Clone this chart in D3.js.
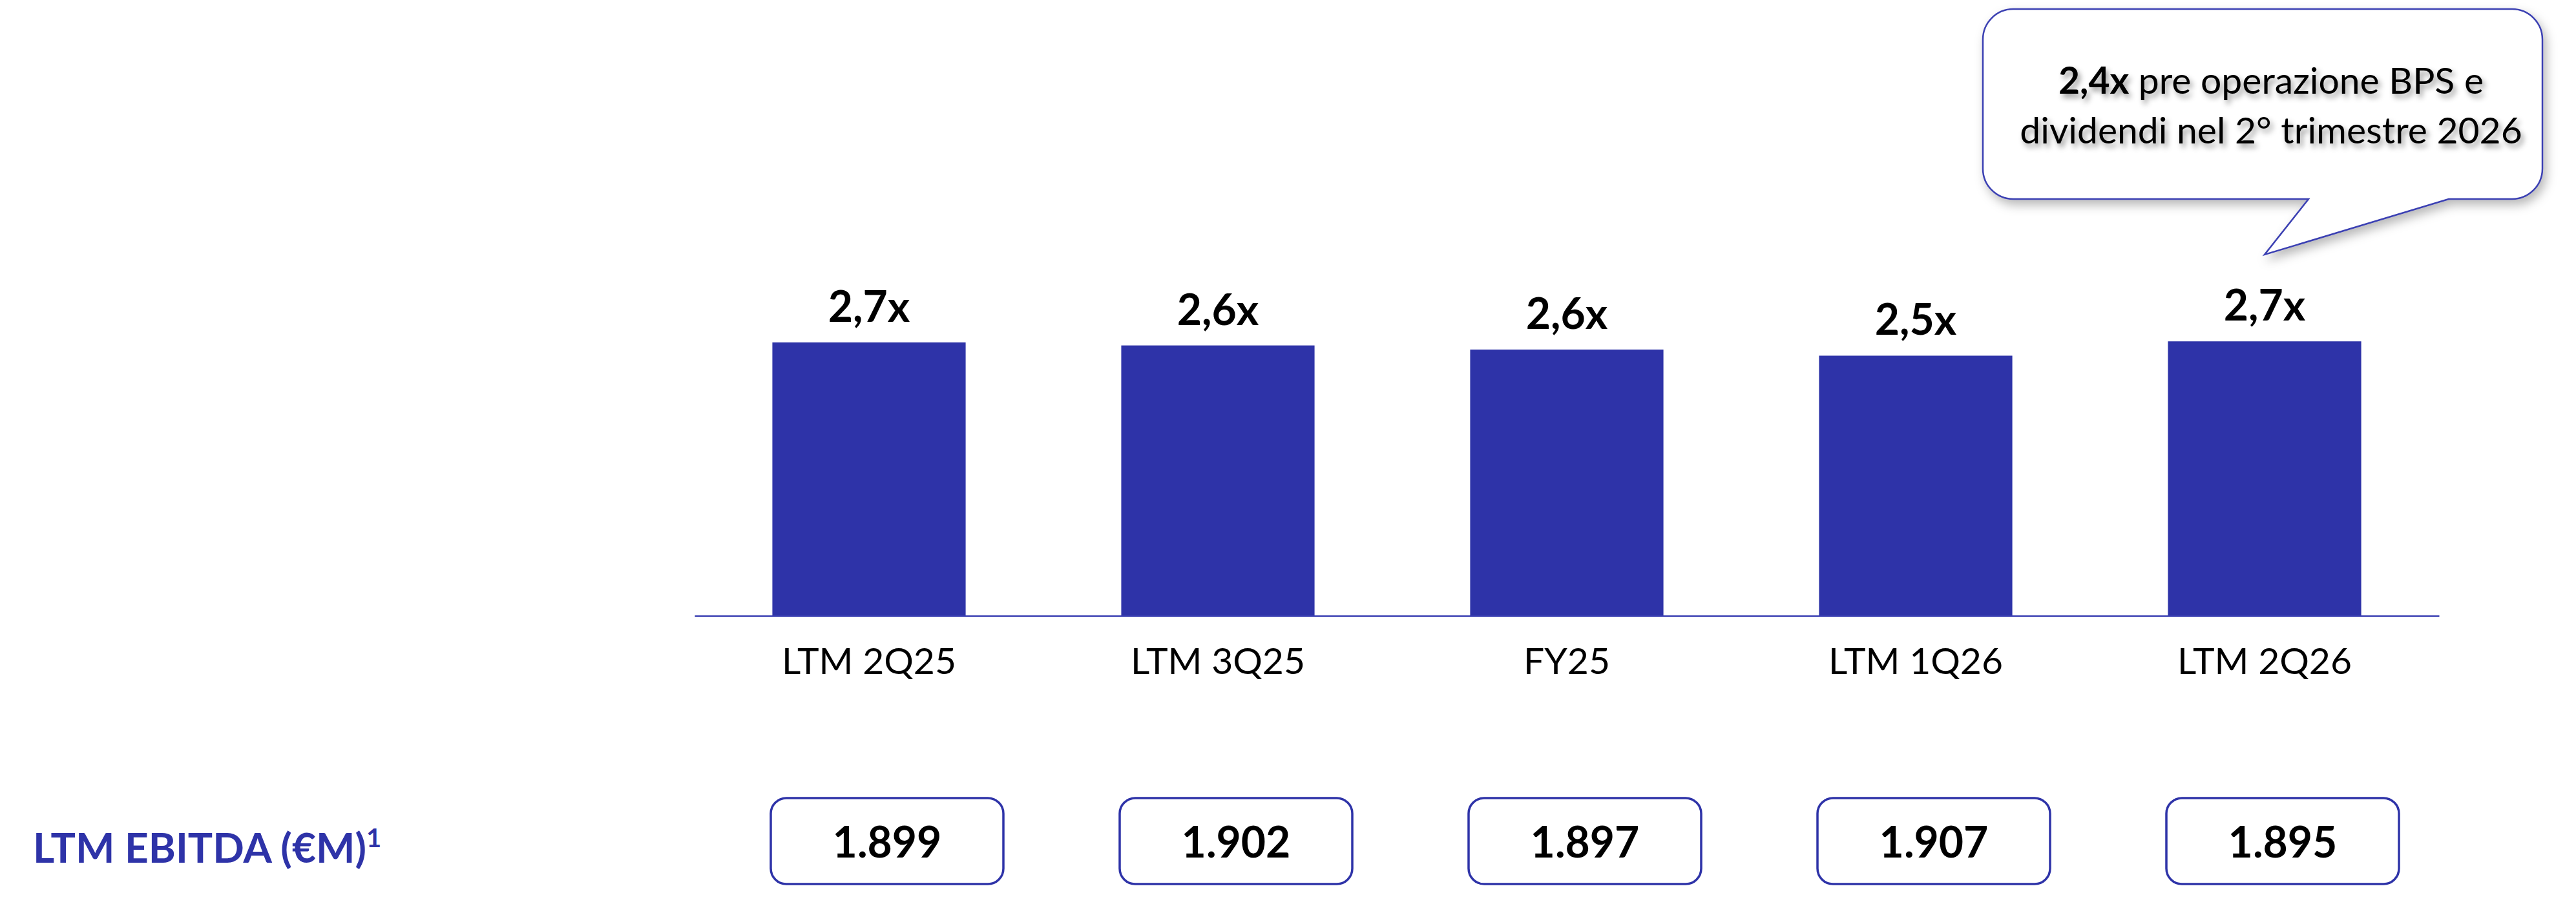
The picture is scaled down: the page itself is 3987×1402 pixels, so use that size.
<!DOCTYPE html>
<html>
<head>
<meta charset="utf-8">
<script src="https://cdn.jsdelivr.net/npm/d3@7"></script>
<style>
  body { margin: 0; background: #ffffff; }
  svg { display: block; font-family: Lato, "Open Sans", sans-serif; }
</style>
</head>
<body>
<div id="chart"></div>
<script>
// periods on the x axis
var periods = ["LTM 2Q25", "LTM 3Q25", "FY25", "LTM 1Q26", "LTM 2Q26"];
// leverage multiple (x) per period
var leverage = [2.67, 2.64, 2.60, 2.54, 2.68];
// LTM EBITDA, € millions
var ebitda = [1899, 1902, 1897, 1907, 1895];
var rowLabel = "LTM EBITDA (€M)";
var rowNote = "1";
// callout on the last bar
var calloutValue = 2.4;
var calloutLines = [" pre operazione BPS e", "dividendi nel 2° trimestre 2026"];

var svgWidth = 3987;
var svgHeight = 1402;
var blue = "#2e33a8";

// italian number format: 2,7 and 1.899
var it = d3.formatLocale({ decimal: ",", thousands: ".", grouping: [3], currency: ["€", ""] });
var fmtMult = it.format(".1f");
var fmtInt = it.format(",d");

var svg = d3.select("#chart")
  .append("svg")
  .attr("width", svgWidth)
  .attr("height", svgHeight);

var defs = svg.append("defs");
defs.append("filter")
  .attr("id", "boxShadow")
  .attr("x", "-10%").attr("y", "-10%").attr("width", "125%").attr("height", "130%")
  .append("feDropShadow")
  .attr("dx", 5).attr("dy", 8).attr("stdDeviation", 8)
  .attr("flood-color", "#000").attr("flood-opacity", 0.28);
defs.append("filter")
  .attr("id", "textShadow")
  .attr("x", "-5%").attr("y", "-20%").attr("width", "115%").attr("height", "150%")
  .append("feDropShadow")
  .attr("dx", 4).attr("dy", 6).attr("stdDeviation", 4)
  .attr("flood-color", "#000").attr("flood-opacity", 0.4);

// scales
var baseY = 953;
var x = d3.scaleBand()
  .domain(periods)
  .range([1075, 3775])
  .paddingInner(0.446)
  .paddingOuter(0.223);

var y = d3.scaleLinear()
  .domain([0, 3])
  .range([baseY, baseY - 3 * 158.5]);

var data = periods.map(function(p, i) {
  return { period: p, lev: leverage[i], ebitda: ebitda[i] };
});

// bars
svg.selectAll(".bar")
  .data(data)
  .enter()
  .append("rect")
  .attr("class", "bar")
  .attr("x", d => x(d.period))
  .attr("y", d => y(d.lev))
  .attr("width", x.bandwidth())
  .attr("height", d => baseY - y(d.lev))
  .attr("fill", blue);

// value labels above bars
svg.selectAll(".valLabel")
  .data(data)
  .enter()
  .append("text")
  .attr("class", "valLabel")
  .attr("x", d => x(d.period) + x.bandwidth() / 2)
  .attr("y", d => y(d.lev) - 32)
  .attr("text-anchor", "middle")
  .attr("font-size", "66px")
  .attr("font-weight", "700")
  .attr("fill", "#000")
  .text(d => fmtMult(d.lev) + "x");

// x axis (baseline + category labels)
var xAxis = svg.append("g")
  .attr("transform", `translate(0, ${baseY})`)
  .call(d3.axisBottom(x).tickSize(0).tickPadding(50));

xAxis.select(".domain")
  .attr("stroke", "#3a3fb2")
  .attr("stroke-width", 2.5);

xAxis.selectAll(".tick text")
  .attr("font-family", "Lato, 'Open Sans', sans-serif")
  .attr("font-size", "57px")
  .attr("fill", "#000");

// EBITDA row
var rowTop = 1235;
var boxW = 360;
var boxH = 133;
var boxShift = 28;

var boxes = svg.selectAll(".ebitdaBox")
  .data(data)
  .enter()
  .append("g")
  .attr("class", "ebitdaBox")
  .attr("transform", d => `translate(${x(d.period) + x.bandwidth() / 2 + boxShift}, ${rowTop})`);

boxes.append("rect")
  .attr("x", -boxW / 2)
  .attr("y", 0)
  .attr("width", boxW)
  .attr("height", boxH)
  .attr("rx", 24)
  .attr("fill", "#fff")
  .attr("stroke", blue)
  .attr("stroke-width", 3.5);

boxes.append("text")
  .attr("x", 0)
  .attr("y", 92)
  .attr("text-anchor", "middle")
  .attr("font-size", "66px")
  .attr("font-weight", "700")
  .attr("fill", "#000")
  .text(d => fmtInt(d.ebitda));

var rowText = svg.append("text")
  .attr("x", 51)
  .attr("y", 1335)
  .attr("font-size", "64px")
  .attr("font-weight", "700")
  .attr("fill", blue);
rowText.append("tspan").text(rowLabel);
rowText.append("tspan")
  .attr("font-size", "40px")
  .attr("dy", -24)
  .text(rowNote);

// callout bubble pointing at the last bar
var last = periods[periods.length - 1];
var tipX = x(last) + x.bandwidth() / 2;
var tipY = 394;
var cL = 3069, cT = 14, cR = 3935, cB = 308, r = 47;
var baseL = 3573, baseR = 3790;

var bubble = d3.path();
bubble.moveTo(cL + r, cT);
bubble.lineTo(cR - r, cT);
bubble.arcTo(cR, cT, cR, cT + r, r);
bubble.lineTo(cR, cB - r);
bubble.arcTo(cR, cB, cR - r, cB, r);
bubble.lineTo(baseR, cB);
bubble.lineTo(tipX, tipY);
bubble.lineTo(baseL, cB);
bubble.lineTo(cL + r, cB);
bubble.arcTo(cL, cB, cL, cB - r, r);
bubble.lineTo(cL, cT + r);
bubble.arcTo(cL, cT, cL + r, cT, r);
bubble.closePath();

svg.append("path")
  .attr("d", bubble.toString())
  .attr("fill", "#fff")
  .attr("stroke", "#3a3fb2")
  .attr("stroke-width", 2.5)
  .attr("filter", "url(#boxShadow)");

var note = svg.append("text")
  .attr("x", 3515)
  .attr("y", 145)
  .attr("text-anchor", "middle")
  .attr("font-size", "57px")
  .attr("fill", "#000")
  .attr("filter", "url(#textShadow)");
note.append("tspan")
  .attr("font-weight", "700")
  .text(fmtMult(calloutValue) + "x");
note.append("tspan")
  .text(calloutLines[0]);
note.append("tspan")
  .attr("x", 3515)
  .attr("dy", 77)
  .text(calloutLines[1]);
</script>
</body>
</html>
